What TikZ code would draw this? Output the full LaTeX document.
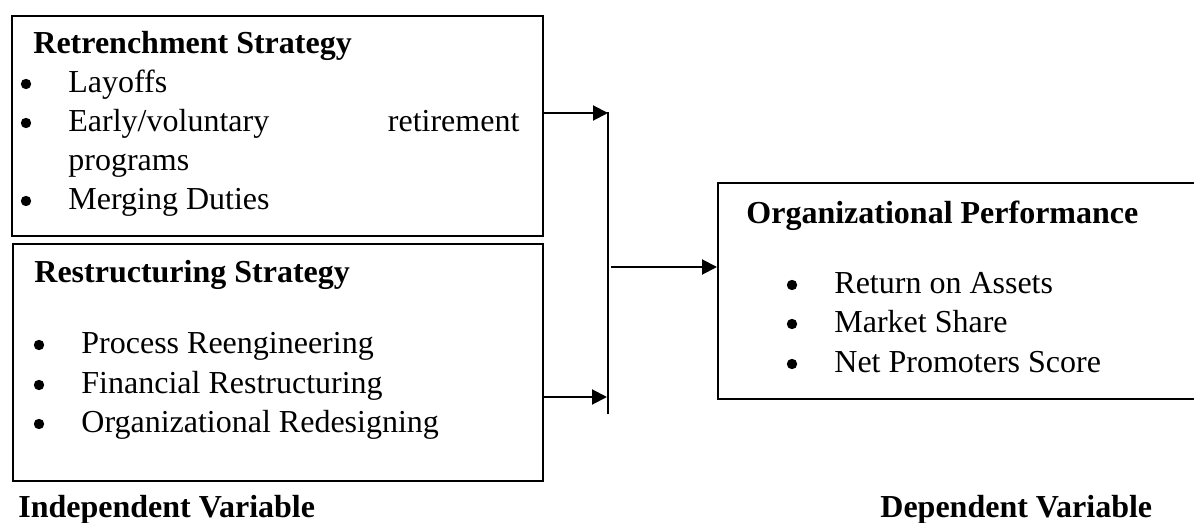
\documentclass[tikz,border=0pt]{standalone}
\usepackage{fontspec}
\setmainfont{Liberation Serif}
\usepackage{tikz}
\usetikzlibrary{arrows.meta,positioning}

\begin{document}
\begin{tikzpicture}[
  x=0.5pt, y=-0.5pt,
  font=\fontsize{16}{19.5}\selectfont,
  box/.style={rectangle, draw, line width=1pt, anchor=north west, inner sep=0pt},
  head/.style={anchor=base west, inner sep=0pt, font=\fontsize{16}{19.5}\selectfont\bfseries},
  item/.style={anchor=base west, inner sep=0pt},
  arrow/.style={-{Triangle[length=7.5pt,width=7.5pt]}, line width=1pt}
]
\useasboundingbox (0,0) rectangle (1194,523);

% Independent variables
\node[box, minimum width=265.5pt, minimum height=110pt] (retrench) at (11,15) {};
\node[head] (rethead) at (33,54) {Retrenchment Strategy};
\node[item] (layoffs) at (68,93) {Layoffs};
\node[item] (early) at (68,132) {\hbox to 225.5pt{Early/voluntary\hfill retirement}};
\node[item] (programs) at (68,171) {programs};
\node[item] (merging) at (68,210) {Merging Duties};

\node[box, minimum width=265pt, minimum height=118.5pt] (restruct) at (12,243) {};
\node[head] (reshead) at (34,283) {Restructuring Strategy};
\node[item] (process) at (81,354) {Process Reengineering};
\node[item] (financial) at (81,394) {Financial Restructuring};
\node[item] (redesign) at (81,433) {Organizational Redesigning};

% Dependent variable
\node[box, minimum width=240pt, minimum height=108pt] (perf) at (717,182) {};
\node[head] (perfhead) at (746,224) {Organizational Performance};
\node[item] (roa) at (834,294) {Return on Assets};
\node[item] (share) at (834,333) {Market Share};
\node[item] (nps) at (834,373) {Net Promoters Score};

% Bullets
\foreach \n in {layoffs,early,merging,process,financial,redesign,roa,share,nps}
  \fill ([xshift=-21pt,yshift=4.5pt]\n.base west) circle (2.6pt);

% Captions
\node[head] (indep) at (18,517) {Independent Variable};
\node[head] (dep) at (880,517) {Dependent Variable};

% Arrows
\coordinate (jtop) at (608,112);
\coordinate (jbot) at (608,414);
\coordinate (in1) at (608,113);
\coordinate (in2) at (607,397);
\coordinate (jmid) at (611,267);
\draw[line width=1pt] (jtop) -- (jbot);
\draw[arrow] (retrench.east |- in1) -- (in1);
\draw[arrow] (restruct.east |- in2) -- (in2);
\draw[arrow] (jmid) -- (perf.west |- jmid);

\end{tikzpicture}
\end{document}
